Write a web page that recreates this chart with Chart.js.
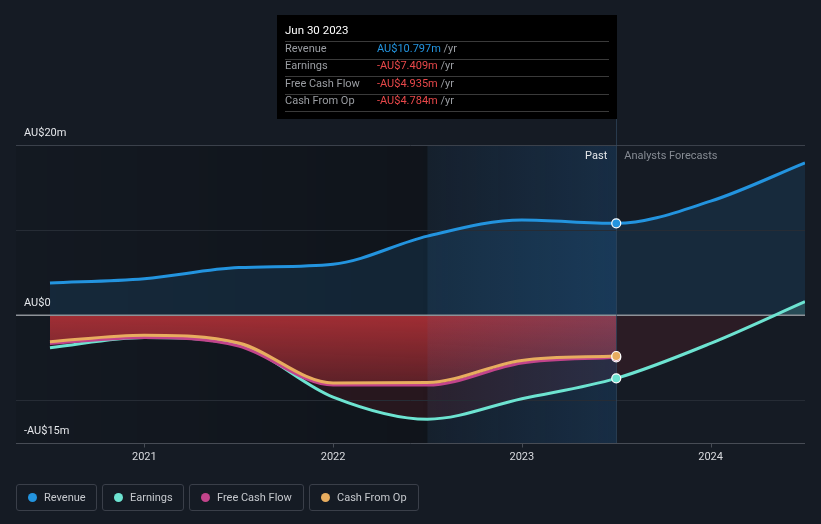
<!DOCTYPE html>
<html>
<head>
<meta charset="utf-8">
<script src="https://cdn.jsdelivr.net/npm/chart.js@4.4.0/dist/chart.umd.min.js"></script>
<style>
  body { margin: 0; background: #151b24; font-family: Roboto, sans-serif; }
  #wrap { position: relative; width: 821px; height: 524px; }
  #legend { position: absolute; left: 16px; top: 484px; display: flex; gap: 5px; }
  .item { height: 27px; box-sizing: border-box; border: 1px solid #3a3f49; border-radius: 3px;
          display: flex; align-items: center; padding-left: 11px; color: #c6c9ce; font-size: 11px; }
  .dot { width: 9px; height: 9px; border-radius: 50%; margin-right: 7px; }
</style>
</head>
<body>
<div id="wrap">
  <canvas id="chart" width="821" height="524"></canvas>
  <div id="legend"></div>
</div>
<script>
// data (x = decimal year)
const revenueDates = [2020.5, 2021.0, 2021.5, 2022.0, 2022.5, 2023.0, 2023.5, 2024.0, 2024.5];
const revenue      = [3.8, 4.3, 5.6, 6.0, 9.3, 11.2, 10.797, 13.4, 17.9];

const earningsDates = [2020.5, 2021.0, 2021.5, 2022.0, 2022.5, 2023.0, 2023.5, 2024.0, 2024.5];
const earnings      = [-3.8, -2.6, -3.5, -9.6, -12.2, -9.8, -7.409, -3.3, 1.6];

const cashDates    = [2020.5, 2021.0, 2021.5, 2022.0, 2022.5, 2023.0, 2023.5];
const freeCashFlow = [-3.3, -2.6, -3.6, -8.2, -8.2, -5.6, -4.935];
const cashFromOp   = [-3.1, -2.35, -3.25, -7.95, -7.9, -5.3, -4.784];

const yearTicks = [2021, 2022, 2023, 2024];
const yearLabels = ['2021', '2022', '2023', '2024'];
const yTicks = [20, 0, -15];
const yLabels = ['AU$20m', 'AU$0', '-AU$15m'];
const gridValues = [20, 10, -10];

const highlightStart = 2022.5;
const pastEnd = 2023.5;
const tipTitle = 'Jun 30 2023';

const colors = {
  revenue: '#2394df',
  earnings: '#6de3d1',
  fcf: '#c2448b',
  cfo: '#e8ad5f'
};

const pts = (dates, vals) => dates.map((d, i) => ({ x: d, y: vals[i] }));
const markerRadius = c => (c.raw && c.raw.x === pastEnd ? 4.5 : 0);

function fmt(v) {
  return (v < 0 ? '-' : '') + 'AU$' + Math.abs(v).toFixed(3) + 'm';
}

const overlay = {
  id: 'overlay',
  beforeDraw(chart) {
    const { ctx, chartArea: a, scales: { x } } = chart;
    const xs = x.getPixelForValue(highlightStart);
    ctx.save();
    const g = ctx.createLinearGradient(a.left, 0, xs, 0);
    g.addColorStop(0, 'rgba(0,0,0,0.06)');
    g.addColorStop(1, 'rgba(0,0,0,0.24)');
    ctx.fillStyle = g;
    ctx.fillRect(a.left, a.top, xs - a.left, a.bottom - a.top);
    ctx.restore();
  },
  beforeDatasetsDraw(chart) {
    const { ctx, chartArea: a, scales: { x, y } } = chart;
    const xs = x.getPixelForValue(highlightStart);
    const xe = x.getPixelForValue(pastEnd);
    ctx.save();
    // highlighted past window
    const g = ctx.createLinearGradient(xs, 0, xe, 0);
    g.addColorStop(0, 'rgba(35,120,200,0.06)');
    g.addColorStop(1, 'rgba(35,120,200,0.2)');
    ctx.fillStyle = g;
    ctx.fillRect(xs, a.top, xe - xs, a.bottom - a.top);

    // grid lines
    gridValues.forEach(v => {
      const py = Math.round(y.getPixelForValue(v)) + 0.5;
      ctx.strokeStyle = v === 20 ? '#3b414b' : '#262c35';
      ctx.lineWidth = 1;
      ctx.beginPath(); ctx.moveTo(a.left, py); ctx.lineTo(a.right, py); ctx.stroke();
    });
    // bottom axis
    const by = Math.round(a.bottom) + 0.5;
    ctx.strokeStyle = '#474c55';
    ctx.beginPath(); ctx.moveTo(a.left, by); ctx.lineTo(a.right, by); ctx.stroke();
    yearTicks.forEach(t => {
      const px = Math.round(x.getPixelForValue(t)) + 0.5;
      ctx.beginPath(); ctx.moveTo(px, by); ctx.lineTo(px, by + 4); ctx.stroke();
    });
    // zero line
    const zy = y.getPixelForValue(0);
    ctx.strokeStyle = '#8e9298';
    ctx.lineWidth = 1.5;
    ctx.beginPath(); ctx.moveTo(a.left, zy); ctx.lineTo(a.right, zy); ctx.stroke();

    // divider
    ctx.strokeStyle = 'rgba(50,75,100,0.65)';
    ctx.lineWidth = 1;
    ctx.beginPath(); ctx.moveTo(Math.round(xe) + 0.5, 119); ctx.lineTo(Math.round(xe) + 0.5, a.bottom); ctx.stroke();
    ctx.restore();
  },
  afterDraw(chart) {
    const { ctx, chartArea: a, scales: { x, y } } = chart;
    const xe = x.getPixelForValue(pastEnd);
    ctx.save();
    ctx.font = '11px Roboto';
    ctx.textBaseline = 'middle';

    // y labels
    ctx.fillStyle = '#e4e6ea';
    ctx.textAlign = 'left';
    yTicks.forEach((v, i) => ctx.fillText(yLabels[i], a.left + 8, y.getPixelForValue(v) - 12));

    // x labels
    ctx.textAlign = 'center';
    ctx.fillStyle = '#d8dade';
    yearTicks.forEach((t, i) => ctx.fillText(yearLabels[i], x.getPixelForValue(t), a.bottom + 14));

    // past / forecast
    ctx.textAlign = 'right';
    ctx.fillStyle = '#e6e8eb';
    ctx.fillText('Past', xe - 9, a.top + 11);
    ctx.textAlign = 'left';
    ctx.fillStyle = '#868b93';
    ctx.fillText('Analysts Forecasts', xe + 8, a.top + 11);

    // tooltip box
    const right = Math.round(xe) + 1, left = right - 340, top = 15, bottom = 119;
    ctx.fillStyle = '#000';
    ctx.fillRect(left, top, right - left, bottom - top);
    ctx.fillStyle = '#fff';
    ctx.font = '11.5px Roboto';
    ctx.fillText(tipTitle, left + 8, 31);

    const rows = [
      ['Revenue', revenue[revenueDates.indexOf(pastEnd)]],
      ['Earnings', earnings[earningsDates.indexOf(pastEnd)]],
      ['Free Cash Flow', freeCashFlow[cashDates.indexOf(pastEnd)]],
      ['Cash From Op', cashFromOp[cashDates.indexOf(pastEnd)]]
    ];
    ctx.font = '11px Roboto';
    ctx.strokeStyle = '#3a3a3a';
    ctx.lineWidth = 1;
    rows.forEach((r, i) => {
      const cy = 49 + i * 17.5;
      const sy = Math.round(cy - 8) + 0.5;
      ctx.beginPath(); ctx.moveTo(left + 8, sy); ctx.lineTo(right - 8, sy); ctx.stroke();
      ctx.fillStyle = '#9a9da2';
      ctx.fillText(r[0], left + 8, cy);
      const val = fmt(r[1]);
      ctx.fillStyle = r[1] < 0 ? '#e8484a' : '#2394df';
      ctx.fillText(val, left + 100, cy);
      const w = ctx.measureText(val + ' ').width;
      ctx.fillStyle = '#9a9da2';
      ctx.fillText('/yr', left + 100 + w, cy);
    });
    const ly = Math.round(49 + 4 * 17.5 - 8) + 0.5;
    ctx.beginPath(); ctx.moveTo(left + 8, ly); ctx.lineTo(right - 8, ly); ctx.stroke();
    ctx.restore();
  }
};

const cfoFill = c => {
  const chart = c.chart;
  if (!chart.chartArea) return 'rgba(190,50,55,0.5)';
  const y = chart.scales.y;
  const g = chart.ctx.createLinearGradient(0, y.getPixelForValue(0), 0, y.getPixelForValue(-12));
  g.addColorStop(0, 'rgba(195,52,58,0.78)');
  g.addColorStop(1, 'rgba(195,52,58,0.12)');
  return g;
};

const lineBase = {
  borderWidth: 3,
  cubicInterpolationMode: 'monotone',
  pointRadius: markerRadius,
  pointBorderColor: '#ffffff',
  pointBorderWidth: 1.2,
  pointHoverRadius: 0
};

new Chart(document.getElementById('chart'), {
  type: 'line',
  data: {
    datasets: [
      Object.assign({}, lineBase, {
        label: 'Revenue', data: pts(revenueDates, revenue), order: 3,
        borderColor: colors.revenue, pointBackgroundColor: colors.revenue,
        fill: { target: 'origin', above: 'rgba(35,148,223,0.13)', below: 'rgba(0,0,0,0)' }
      }),
      Object.assign({}, lineBase, {
        label: 'Earnings', data: pts(earningsDates, earnings), order: 2,
        borderColor: colors.earnings, pointBackgroundColor: colors.earnings,
        fill: { target: 'origin', above: 'rgba(109,227,209,0.18)', below: 'rgba(190,40,50,0.13)' }
      }),
      Object.assign({}, lineBase, {
        label: 'Free Cash Flow', data: pts(cashDates, freeCashFlow), order: 1,
        borderColor: colors.fcf, pointBackgroundColor: colors.fcf, fill: false
      }),
      Object.assign({}, lineBase, {
        label: 'Cash From Op', data: pts(cashDates, cashFromOp), order: 0,
        borderColor: colors.cfo, pointBackgroundColor: colors.cfo,
        fill: 'origin', backgroundColor: cfoFill
      })
    ]
  },
  options: {
    responsive: false,
    animation: false,
    events: [],
    layout: { padding: { left: 16, right: 16, top: 145, bottom: 81 } },
    scales: {
      x: { type: 'linear', min: 2020.32, max: 2024.5, display: false },
      y: { min: -15, max: 20, display: false }
    },
    plugins: {
      legend: { display: false },
      tooltip: { enabled: false },
      filler: { drawTime: 'beforeDatasetsDraw' }
    }
  },
  plugins: [overlay]
});

// html legend
const legendItems = [
  ['Revenue', colors.revenue, 81],
  ['Earnings', colors.earnings, 82],
  ['Free Cash Flow', colors.fcf, 115],
  ['Cash From Op', colors.cfo, 110]
];
const legend = document.getElementById('legend');
legendItems.forEach(([name, col, w]) => {
  const el = document.createElement('div');
  el.className = 'item';
  el.style.width = w + 'px';
  el.innerHTML = '<span class="dot" style="background:' + col + '"></span>' + name;
  legend.appendChild(el);
});
</script>
</body>
</html>
